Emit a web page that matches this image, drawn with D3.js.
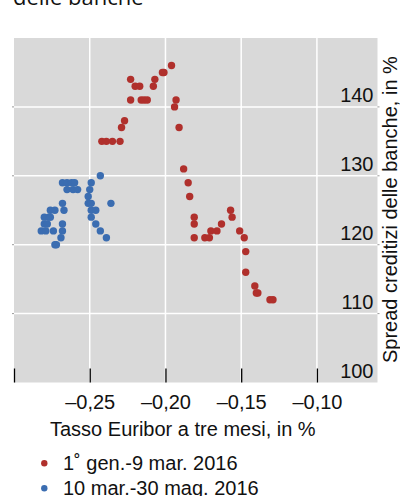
<!DOCTYPE html>
<html><head><meta charset="utf-8">
<script src="https://cdn.jsdelivr.net/npm/d3@7"></script>
<style>
html,body{margin:0;padding:0;background:#fff;}
svg{display:block;}
text{font-family:"Liberation Sans",Arial,Helvetica,sans-serif;fill:#111;}
</style></head>
<body>
<svg id="c" width="400" height="496"></svg>
<script>
// ---- data ----
const titleText = "delle banche";
const xTitle = "Tasso Euribor a tre mesi, in %";
const yTitle = "Spread creditizi delle banche, in %";
const seriesNames = ["1˚ gen.-9 mar. 2016", "10 mar.-30 mag. 2016"];
const seriesColors = ["#b0302c", "#3b6db1"];
const xTicks = [-0.30, -0.25, -0.20, -0.15, -0.10];
const xTickLabels = ["", "–0,25", "–0,20", "–0,15", "–0,10"];
const yTicks = [100, 110, 120, 130, 140];
const yTickLabels = ["100", "110", "120", "130", "140"];

// series 1: 1 gen - 9 mar 2016  [euribor, spread]
const euriborJanMar = [-0.196,-0.201,-0.202,-0.207,-0.208,-0.223,-0.220,-0.217,-0.223,-0.216,-0.214,-0.212,-0.193,-0.194,-0.191,-0.227,-0.229,-0.242,-0.239,-0.235,-0.230,-0.188,-0.185,-0.184,-0.181,-0.181,-0.181,-0.174,-0.171,-0.170,-0.166,-0.163,-0.157,-0.156,-0.151,-0.148,-0.147,-0.147,-0.141,-0.140,-0.139,-0.131,-0.129];
const spreadJanMar  = [146,145,145,144,143,144,143,143,141,141,141,141,141,140,137,138,137,135,135,135,135,131,129,127,124,123,121,121,121,122,122,123,125,124,122,121,119,116,114,113,113,112,112];
// series 2: 10 mar - 30 mag 2016
const euriborMarMay = [-0.243,-0.268,-0.265,-0.262,-0.260,-0.249,-0.265,-0.261,-0.258,-0.250,-0.251,-0.268,-0.251,-0.249,-0.236,-0.276,-0.273,-0.267,-0.249,-0.246,-0.280,-0.277,-0.276,-0.249,-0.280,-0.278,-0.268,-0.246,-0.282,-0.279,-0.274,-0.268,-0.243,-0.269,-0.239,-0.273,-0.272];
const spreadMarMay  = [130,129,129,129,129,129,128,128,128,128,127,126,126,126,126,125,125,125,125,125,124,124,124,124,123,123,123,123,122,122,122,122,122,121,121,120,120];

// ---- layout ----
const svg = d3.select("#c");
const L = 14, R = 377.5, T = 38, B = 382.5;
const x = d3.scaleLinear().domain([-0.30, -0.06]).range([L, R]);
const y = d3.scaleLinear().domain([100, 150]).range([B, T]);

svg.append("rect").attr("x", L).attr("y", T).attr("width", R - L).attr("height", B - T).attr("fill", "#d9d9d9");

// gridlines
svg.append("g").selectAll("line").data(xTicks.slice(1)).join("line")
  .attr("x1", d => x(d)).attr("x2", d => x(d)).attr("y1", T).attr("y2", B)
  .attr("stroke", "#fff").attr("stroke-width", 1.5);
svg.append("g").selectAll("line").data(yTicks.slice(1)).join("line")
  .attr("x1", L).attr("x2", R).attr("y1", d => y(d)).attr("y2", d => y(d))
  .attr("stroke", "#fff").attr("stroke-width", 1.5);

// small outer y ticks
[L - 2, R].forEach(x0 => {
  svg.append("g").selectAll("line").data(yTicks.slice(1)).join("line")
    .attr("x1", x0).attr("x2", x0 + 2).attr("y1", d => y(d)).attr("y2", d => y(d))
    .attr("stroke", "#999").attr("stroke-width", 1);
});

// points
const s1 = euriborJanMar.map((v, i) => ({x: v, y: spreadJanMar[i]}));
const s2 = euriborMarMay.map((v, i) => ({x: v, y: spreadMarMay[i]}));
[s1, s2].forEach((s, k) => {
  svg.append("g").selectAll("circle").data(s).join("circle")
    .attr("cx", d => x(d.x)).attr("cy", d => y(d.y)).attr("r", 3.7)
    .attr("fill", seriesColors[k]);
});

// x axis (ticks point up into plot)
const xAxis = d3.axisBottom(x).tickValues(xTicks)
  .tickFormat((d, i) => xTickLabels[i]).tickSizeInner(-14).tickSizeOuter(0).tickPadding(12);
const gx = svg.append("g").attr("transform", `translate(0,${B})`).call(xAxis);
gx.select(".domain").remove();
gx.selectAll(".tick line").attr("stroke", "#000").attr("stroke-width", 1.3);
gx.selectAll(".tick text").attr("font-size", 20).attr("font-family", "Liberation Sans, Arial, sans-serif").attr("fill", "#111");

// y axis labels (inside, right, above gridline)
const yAxis = d3.axisLeft(y).tickValues(yTicks).tickFormat((d, i) => yTickLabels[i]).tickSize(0).tickPadding(0);
const gy = svg.append("g").attr("transform", `translate(373.5,0)`).call(yAxis);
gy.select(".domain").remove();
gy.selectAll(".tick text").attr("font-size", 20).attr("dy", "-0.27em")
  .attr("font-family", "Liberation Sans, Arial, sans-serif").attr("fill", "#111");

// axis titles
svg.append("text").attr("x", 50).attr("y", 436).attr("font-size", 20).text(xTitle);
svg.append("text").attr("transform", "translate(397,363) rotate(-90)")
  .attr("font-size", 20).text(yTitle);

// title (partially cut at top)
svg.append("text").attr("x", 13).attr("y", 5).attr("font-size", 22)
  .style("font-family", "'Open Sans', sans-serif").text(titleText);

// legend
seriesNames.forEach((n, i) => {
  const yy = 463.3 + i * 25;
  svg.append("circle").attr("cx", 44.3).attr("cy", yy).attr("r", 3.2).attr("fill", seriesColors[i]);
  svg.append("text").attr("x", 63).attr("y", yy + 6.5).attr("font-size", 20).text(n);
});
</script>
</body></html>
